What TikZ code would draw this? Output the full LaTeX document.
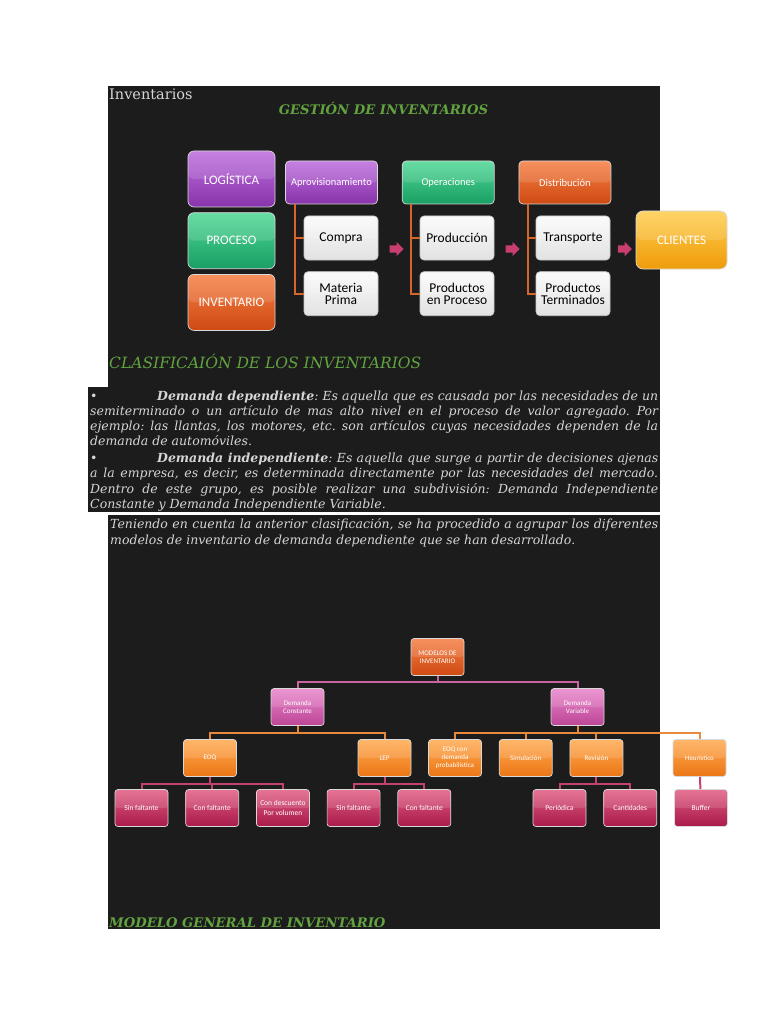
\documentclass[tikz,border=0pt]{standalone}
\usepackage{fontspec}
\setmainfont{DejaVu Serif}
\newfontfamily\boxfont{Carlito}
\usetikzlibrary{positioning, calc, shapes.arrows}
\frenchspacing

\definecolor{pagebg}{RGB}{28,28,28}
\definecolor{headgreen}{RGB}{98,163,64}
\definecolor{textgray}{RGB}{214,214,214}
\definecolor{purpletop}{RGB}{190,110,222}
\definecolor{purplebot}{RGB}{136,52,170}
\definecolor{greentop}{RGB}{80,216,150}
\definecolor{greenbot}{RGB}{26,158,100}
\definecolor{redtop}{RGB}{246,128,70}
\definecolor{redbot}{RGB}{206,74,18}
\definecolor{greytop}{RGB}{250,250,250}
\definecolor{greybot}{RGB}{226,226,226}
\definecolor{goldtop}{RGB}{255,206,80}
\definecolor{goldbot}{RGB}{238,156,10}
\definecolor{arrowpink}{RGB}{200,62,112}
\definecolor{treeorange}{RGB}{214,102,42}
\definecolor{pinktop}{RGB}{234,134,204}
\definecolor{pinkbot}{RGB}{188,70,150}
\definecolor{ambertop}{RGB}{255,172,82}
\definecolor{amberbot}{RGB}{236,118,22}
\definecolor{crimsontop}{RGB}{226,94,132}
\definecolor{crimsonbot}{RGB}{168,26,74}
\definecolor{linkpink}{RGB}{200,100,160}
\definecolor{linkorange}{RGB}{232,138,60}
\definecolor{linkred}{RGB}{196,66,110}

\begin{document}
\begin{tikzpicture}[x=1pt, y=-1pt, node distance=5pt,
  box/.style={rectangle, rounded corners=4pt, draw=white!70!gray, line width=0.7pt, align=center, inner sep=1pt, text=white,
    path picture={\fill[white, opacity=0.13] (path picture bounding box.north west) rectangle (path picture bounding box.east);}},
  purplefill/.style={top color=purpletop, bottom color=purplebot},
  greenfill/.style={top color=greentop, bottom color=greenbot},
  redfill/.style={top color=redtop, bottom color=redbot},
  goldfill/.style={top color=goldtop, bottom color=goldbot},
  pinkfill/.style={top color=pinktop, bottom color=pinkbot},
  amberfill/.style={top color=ambertop, bottom color=amberbot},
  crimsonfill/.style={top color=crimsontop, bottom color=crimsonbot},
  bigbox/.style={box, rounded corners=6pt, minimum width=87pt, minimum height=56pt, font=\boxfont\fontsize{13}{14}\selectfont},
  headbox/.style={box, minimum width=92pt, minimum height=43pt, font=\boxfont\fontsize{10.5}{12}\selectfont},
  itembox/.style={box, top color=greytop, bottom color=greybot, draw=gray!45, text=black, minimum width=74pt, minimum height=44pt, font=\boxfont\fontsize{13.5}{12.5}\selectfont},
  blockarrow/.style={single arrow, fill=arrowpink, draw=none, text height=7pt, text depth=0pt, text width=4pt, minimum height=14pt, single arrow head extend=3.5pt, inner sep=0pt},
  branch/.style={treeorange, line width=2pt},
  chartbox/.style={box, rounded corners=3pt, minimum width=53pt, minimum height=37pt, font=\boxfont\fontsize{7}{8}\selectfont},
  leaf/.style={chartbox, crimsonfill, font=\boxfont\fontsize{7.5}{9.5}\selectfont},
  heading/.style={inner sep=0pt, text=headgreen, font=\bfseries\itshape\fontsize{13.2}{15}\selectfont},
  para/.style={inner sep=0pt, text=textgray, align=justify, anchor=north west},
]
% page and dark panels
\fill[white] (0,0) rectangle (768,1024);
\fill[pagebg] (108,86) rectangle (660,387);
\fill[pagebg] (88,387) rectangle (660,512);
\fill[pagebg] (108,515) rectangle (660,929);

% headings
\node (title) [anchor=base west, inner sep=0pt, text=textgray, font=\fontsize{14.5}{16}\selectfont] at (109,100) {Inventarios};
\node (gestion) [heading, anchor=base] at (383.5,115) {GESTIÓN DE INVENTARIOS};
\node (clasif) [heading, anchor=base west, font=\itshape\fontsize{15.5}{17}\selectfont] at (109,368) {CLASIFICAIÓN DE LOS INVENTARIOS};
\node (modelo) [heading, anchor=base west] at (109,927) {MODELO GENERAL DE INVENTARIO};

% gestion de inventarios
\node (logistica) [bigbox, purplefill] at (231.5,179) {LOGÍSTICA};
\node (proceso) [bigbox, greenfill, below=of logistica] {PROCESO};
\node (inventario) [bigbox, redfill, below=of proceso] {INVENTARIO};

\node (apro) [headbox, purplefill] at (331.5,182.5) {Aprovisionamiento};
\node (oper) [headbox, greenfill, right=24pt of apro] {Operaciones};
\node (distrib) [headbox, redfill, right=24pt of oper] {Distribución};

\node (compra) [itembox] at (341,238) {Compra};
\node (materia) [itembox, below=11pt of compra] {Materia\\Prima};
\node (produccion) [itembox] at (457,238) {Producción};
\node (enproceso) [itembox, below=11pt of produccion] {Productos\\en Proceso};
\node (transporte) [itembox] at (573,238) {Transporte};
\node (terminados) [itembox, below=11pt of transporte] {Productos\\Terminados};

\node (clientes) [box, goldfill, rounded corners=7pt, minimum width=91pt, minimum height=58pt, font=\boxfont\fontsize{13}{14}\selectfont] at (681.5,240) {CLIENTES};

\draw[branch] ([xshift=10pt]apro.south west) |- (compra.west);
\draw[branch] ([xshift=10pt]apro.south west) |- (materia.west);
\draw[branch] ([xshift=9pt]oper.south west) |- (produccion.west);
\draw[branch] ([xshift=9pt]oper.south west) |- (enproceso.west);
\draw[branch] ([xshift=9pt]distrib.south west) |- (transporte.west);
\draw[branch] ([xshift=9pt]distrib.south west) |- (terminados.west);

\node (arrowa) [blockarrow] at ($(compra.east)!0.4!(produccion.west)+(0,11)$) {};
\node (arrowb) [blockarrow] at ($(produccion.east)!0.4!(transporte.west)+(0,11)$) {};
\node (arrowc) [blockarrow] at ($(transporte.east)!0.5!(clientes.west)+(0,10)$) {};

% clasificacion
\node (dependiente) [para, text width=568pt, font=\itshape\fontsize{12.5}{15}\selectfont] at (90,390.5)
  {\noindent\makebox[67pt][l]{\textbullet}\textbf{Demanda dependiente}: Es aquella que es causada por las necesidades de un\linebreak
   semiterminado o un artículo de mas alto nivel en el proceso de valor agregado. Por\linebreak
   ejemplo: las llantas, los motores, etc. son artículos cuyas necesidades dependen de la\linebreak
   demanda de automóviles.};
\node (independiente) [para, text width=568pt, font=\itshape\fontsize{12.5}{15.5}\selectfont] at (90,452.5)
  {\noindent\makebox[67pt][l]{\textbullet}\textbf{Demanda independiente}: Es aquella que surge a partir de decisiones ajenas\linebreak
   a la empresa, es decir, es determinada directamente por las necesidades del mercado.\linebreak
   Dentro de este grupo, es posible realizar una subdivisión: Demanda Independiente\linebreak
   Constante y Demanda Independiente Variable.};
\node (teniendo) [para, text width=548pt, font=\itshape\fontsize{12.5}{16}\selectfont] at (110,518)
  {\noindent Teniendo en cuenta la anterior clasificación, se ha procedido a agrupar los diferentes\linebreak
   modelos de inventario de demanda dependiente que se han desarrollado.};

% modelos de inventario
\node (modelos) [chartbox, redfill] at (437.5,657) {MODELOS DE\\INVENTARIO};
\node (dconst) [chartbox, pinkfill] at (297.5,707) {Demanda\\Constante};
\node (dvar) [chartbox, pinkfill] at (577.5,707) {Demanda\\Variable};

\node (eoq) [chartbox, amberfill] at (210,758) {EOQ};
\node (lep) [chartbox, amberfill] at (384.5,758) {LEP};
\node (eoqprob) [chartbox, amberfill] at (455,758) {EOQ con\\demanda\\probabilística};
\node (simulacion) [chartbox, amberfill, right=17pt of eoqprob] {Simulación};
\node (revision) [chartbox, amberfill, right=17pt of simulacion] {Revisión};
\node (heuristico) [chartbox, amberfill] at (699.5,758) {Heurístico};

\node (sf1) [leaf] at (141.5,808) {Sin faltante};
\node (cf1) [leaf, right=17pt of sf1] {Con faltante};
\node (cdv) [leaf, right=17pt of cf1] {Con descuento\\Por volumen};
\node (sf2) [leaf, right=17pt of cdv] {Sin faltante};
\node (cf2) [leaf, right=17pt of sf2] {Con faltante};
\node (periodica) [leaf] at (559.5,808) {Periódica};
\node (cantidades) [leaf, right=17pt of periodica] {Cantidades};
\node (buffer) [leaf, right=17pt of cantidades] {Buffer};

\draw[linkpink, line width=2pt] (modelos.south) -- ++(0,6) -| (dconst.north);
\draw[linkpink, line width=2pt] (modelos.south) -- ++(0,6) -| (dvar.north);
\draw[linkorange, line width=2pt] (dconst.south) -- ++(0,7) -| (eoq.north);
\draw[linkorange, line width=2pt] (dconst.south) -- ++(0,7) -| (lep.north);
\draw[linkorange, line width=2pt] (dvar.south) -- ++(0,7) -| (eoqprob.north);
\draw[linkorange, line width=2pt] (dvar.south) -- ++(0,7) -| (simulacion.north);
\draw[linkorange, line width=2pt] (dvar.south) -- ++(0,7) -| (revision.north);
\draw[linkorange, line width=2pt] (dvar.south) -- ++(0,7) -| (heuristico.north);
\draw[linkred, line width=2pt] (eoq.south) -- ++(0,7) -| (sf1.north);
\draw[linkred, line width=2pt] (eoq.south) -- ++(0,7) -| (cf1.north);
\draw[linkred, line width=2pt] (eoq.south) -- ++(0,7) -| (cdv.north);
\draw[linkred, line width=2pt] (lep.south) -- ++(0,7) -| (sf2.north);
\draw[linkred, line width=2pt] (lep.south) -- ++(0,7) -| (cf2.north);
\draw[linkred, line width=2pt] (revision.south) -- ++(0,7) -| (periodica.north);
\draw[linkred, line width=2pt] (revision.south) -- ++(0,7) -| (cantidades.north);
\draw[linkred, line width=2pt] (heuristico) -- (buffer);
\end{tikzpicture}
\end{document}
